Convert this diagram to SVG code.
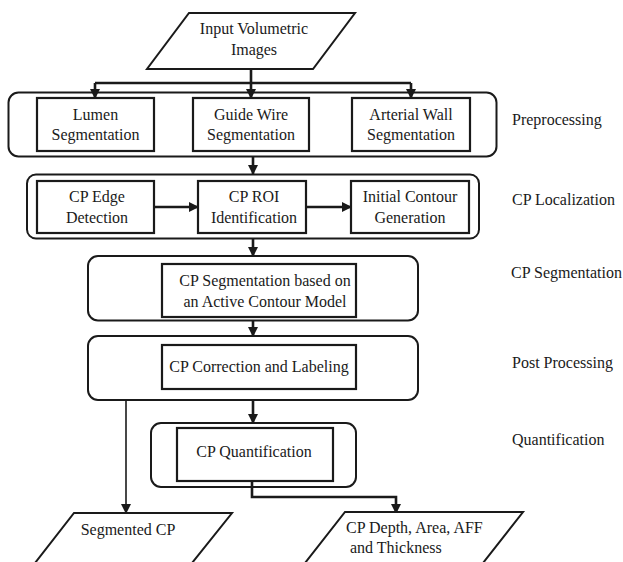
<svg xmlns="http://www.w3.org/2000/svg" width="623" height="562" viewBox="0 0 623 562" font-family="Liberation Serif, Times New Roman, serif">
<defs>
<marker id="ah" markerWidth="10" markerHeight="10" refX="9" refY="5" orient="auto" markerUnits="userSpaceOnUse">
<path d="M0,0 L10,5 L0,10 Z" fill="#1a1a1a"/>
</marker>
</defs>
<style>
text{font-size:16px;fill:#1a1a1a}
.c{text-anchor:middle}
.box{fill:#fff;stroke:#1a1a1a;stroke-width:2.2}
.grp{fill:none;stroke:#1a1a1a;stroke-width:2}
.io{fill:#fff;stroke:#1a1a1a;stroke-width:2}
.ln{fill:none;stroke:#1a1a1a;stroke-width:2.6}
.arr{fill:none;stroke:#1a1a1a;stroke-width:2.6;marker-end:url(#ah)}
.thin{fill:none;stroke:#1a1a1a;stroke-width:1.6;marker-end:url(#ah)}
</style>
<rect width="623" height="562" fill="#fff"/>

<g id="containers">
<rect id="preprocessing-group" class="grp" x="8.5" y="92.5" width="488" height="64" rx="10"/>
<rect id="localization-group" class="grp" x="27" y="174.5" width="452" height="64" rx="9"/>
<rect id="segmentation-group" class="grp" x="88" y="256" width="330" height="64.5" rx="10"/>
<rect id="postprocessing-group" class="grp" x="88" y="336" width="330" height="64" rx="10"/>
<rect id="quantification-group" class="grp" x="151" y="423" width="205" height="64" rx="10"/>
</g>

<g id="connectors">
<line class="ln" x1="251" y1="69" x2="251" y2="83"/>
<line class="ln" x1="95" y1="83" x2="411" y2="83"/>
<line class="arr" x1="95" y1="83" x2="95" y2="98"/>
<line class="arr" x1="251" y1="83" x2="251" y2="98"/>
<line class="arr" x1="411" y1="83" x2="411" y2="98"/>
<line class="arr" x1="253" y1="157" x2="253" y2="174"/>
<line class="arr" x1="154" y1="207" x2="198" y2="207"/>
<line class="arr" x1="306" y1="207" x2="351" y2="207"/>
<line class="arr" x1="253" y1="239" x2="253" y2="256"/>
<line class="arr" x1="253" y1="321" x2="253" y2="336"/>
<line class="arr" x1="253" y1="400" x2="253" y2="423"/>
<line class="thin" x1="126" y1="400" x2="126" y2="513"/>
<polyline class="arr" points="252,481 252,497 396,497 396,513"/>
</g>

<g id="input">
<polygon class="io" points="189,13 355,13 313,69 147,69"/>
<text class="c" x="254" y="34">Input Volumetric</text>
<text class="c" x="254" y="55">Images</text>
</g>

<g id="lumen">
<rect class="box" x="37" y="98" width="117" height="53"/>
<text class="c" x="95.5" y="120">Lumen</text>
<text class="c" x="95.5" y="140">Segmentation</text>
</g>
<g id="guidewire">
<rect class="box" x="193" y="98" width="116" height="53"/>
<text class="c" x="251" y="120">Guide Wire</text>
<text class="c" x="251" y="140">Segmentation</text>
</g>
<g id="arterialwall">
<rect class="box" x="352" y="98" width="118" height="53"/>
<text class="c" x="411" y="120">Arterial Wall</text>
<text class="c" x="411" y="140">Segmentation</text>
</g>

<g id="edge">
<rect class="box" x="37" y="181" width="117" height="52"/>
<text class="c" x="97" y="202">CP Edge</text>
<text class="c" x="97" y="223">Detection</text>
</g>
<g id="roi">
<rect class="box" x="198" y="181" width="108" height="52"/>
<text class="c" x="254" y="202">CP ROI</text>
<text class="c" x="254" y="223">Identification</text>
</g>
<g id="initialcontour">
<rect class="box" x="351" y="181" width="118" height="52"/>
<text class="c" x="410" y="202">Initial Contour</text>
<text class="c" x="410" y="223">Generation</text>
</g>

<g id="cpsegmentation">
<rect class="box" x="162" y="264" width="194" height="53"/>
<text class="c" x="265" y="286">CP Segmentation based on</text>
<text class="c" x="265" y="307">an Active Contour Model</text>
</g>

<g id="correction">
<rect class="box" x="162" y="345" width="194" height="44"/>
<text class="c" x="259" y="372">CP Correction and Labeling</text>
</g>

<g id="quantification">
<rect class="box" x="177" y="428" width="156" height="53"/>
<text class="c" x="254" y="457">CP Quantification</text>
</g>

<g id="segmentedcp">
<polygon class="io" points="74,513 232,513 192,563 35,563"/>
<text class="c" x="128" y="535">Segmented CP</text>
</g>

<g id="measures">
<polygon class="io" points="345,512 523,512 483,563 305,563"/>
<text x="346" y="533">CP Depth, Area, AFF</text>
<text x="350" y="553">and Thickness</text>
</g>

<g id="stage-labels">
<text x="512" y="125">Preprocessing</text>
<text x="512" y="205">CP Localization</text>
<text x="511" y="278">CP Segmentation</text>
<text x="512" y="368">Post Processing</text>
<text x="512" y="445">Quantification</text>
</g>
</svg>
